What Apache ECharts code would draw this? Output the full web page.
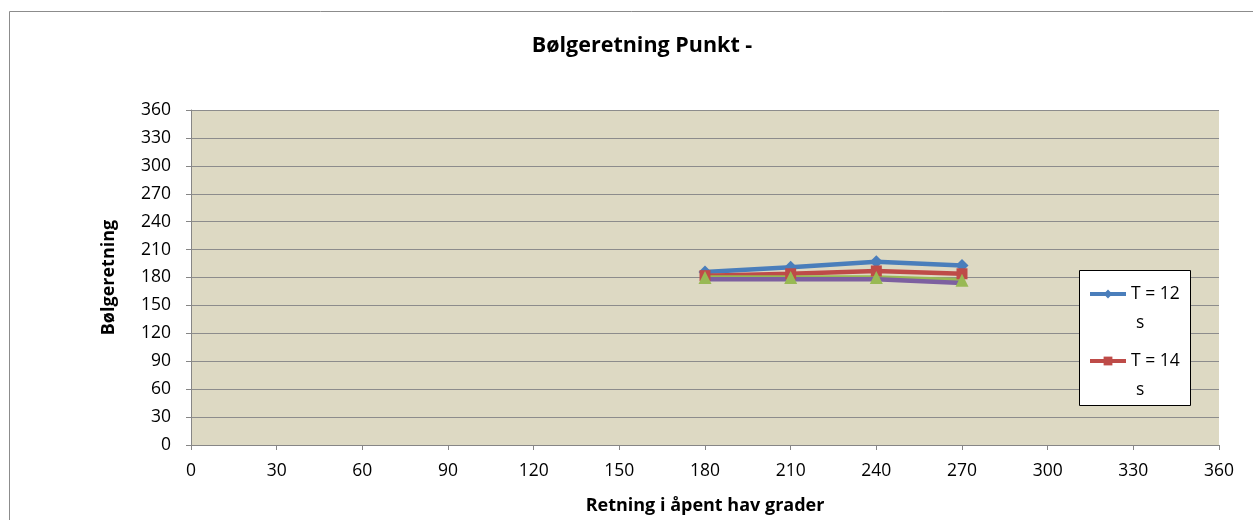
<!DOCTYPE html>
<html lang="en">
<head>
    <meta charset="UTF-8">
    <title>Bølgeretning Punkt</title>
    <style>
        html, body { margin: 0; padding: 0; background: #fff; }
        #crq { width: 1253px; height: 520px; }
    </style>
    <script src="https://cdn.jsdelivr.net/npm/echarts@6/dist/echarts.min.js"></script>
</head>
<body>
    <div id="crq"></div>
    <script>
        // retning i åpent hav (x) og bølgeretning (y) per periode
        var retning = [180, 210, 240, 270];
        var t12 = [186, 191, 197, 193];
        var t14 = [182, 184, 187, 184];
        var t16 = [180, 180, 180, 177];
        var t18 = [178, 178, 178, 174];
        var seriesNames = ['T = 12 s', 'T = 14 s', 'T = 16 s', 'T = 18 s'];

        function pairs(vals) {
            return retning.map(function (r, i) { return [r, vals[i]]; });
        }

        var font = '"Open Sans", "DejaVu Sans", sans-serif';
        var myChart = echarts.init(document.getElementById('crq'));

        var option = {
            animation: false,
            backgroundColor: '#ffffff',
            title: {
                text: 'Bølgeretning Punkt -',
                left: 637,
                textAlign: 'center',
                top: 30,
                textStyle: { fontFamily: font, fontSize: 21.5, fontWeight: 'bold', color: '#000' }
            },
            graphic: [{
                type: 'rect',
                shape: { x: 9.5, y: 11.5, width: 1260, height: 520 },
                style: { fill: 'none', stroke: '#8c8c8c', lineWidth: 1 },
                silent: true
            }, {
                // legend frame
                type: 'rect',
                shape: { x: 1079.5, y: 270.5, width: 111, height: 135 },
                style: { fill: '#ffffff', stroke: '#000', lineWidth: 1 },
                silent: true,
                z: 5
            }],
            legend: {
                data: seriesNames.slice(0, 2),
                orient: 'vertical',
                left: 1088,
                top: 256,
                padding: 0,
                itemGap: -9,
                itemWidth: 36,
                itemHeight: 11,
                z: 10,
                lineStyle: { width: 4 },
                formatter: function (name) {
                    var p = name.split(' s');
                    return '{e| }\n{a|' + p[0] + '}\n{b|s}';
                },
                textStyle: {
                    fontFamily: font, fontSize: 17.5, color: '#000',
                    rich: {
                        e: { fontFamily: font, fontSize: 17.5, lineHeight: 29 },
                        a: { fontFamily: font, fontSize: 17.5, lineHeight: 29, color: '#000' },
                        b: { fontFamily: font, fontSize: 17.5, lineHeight: 29, color: '#000', padding: [0, 0, 0, 5] }
                    }
                }
            },
            grid: {
                left: 191,
                right: 34,
                top: 110,
                bottom: 74,
                show: true,
                backgroundColor: '#ddd9c3',
                borderWidth: 0
            },
            xAxis: {
                type: 'value',
                min: 0,
                max: 360,
                interval: 30,
                name: 'Retning i åpent hav grader',
                nameLocation: 'middle',
                nameGap: 52,
                nameTextStyle: { fontFamily: font, fontSize: 18, fontWeight: 'bold', color: '#000' },
                axisLine: { show: true, lineStyle: { color: '#868686' } },
                axisTick: { show: true, length: 5, lineStyle: { color: '#868686' } },
                axisLabel: { fontFamily: font, fontSize: 17.5, color: '#000', margin: 17 },
                splitLine: { show: false }
            },
            yAxis: {
                type: 'value',
                min: 0,
                max: 360,
                interval: 30,
                name: 'Bølgeretning',
                nameLocation: 'middle',
                nameGap: 73,
                nameTextStyle: { fontFamily: font, fontSize: 18, fontWeight: 'bold', color: '#000' },
                axisLine: { show: true, lineStyle: { color: '#868686' } },
                axisTick: { show: true, length: 5, lineStyle: { color: '#868686' } },
                axisLabel: { fontFamily: font, fontSize: 17.5, color: '#000', margin: 20 },
                splitLine: { show: true, lineStyle: { color: '#8c8c8c', width: 1 } }
            },
            series: [
                {
                    name: seriesNames[0], type: 'line', data: pairs(t12),
                    symbol: 'diamond', symbolSize: 13,
                    lineStyle: { width: 4.5, color: '#4a7ebb' },
                    itemStyle: { color: '#4a7ebb' }
                },
                {
                    name: seriesNames[1], type: 'line', data: pairs(t14),
                    symbol: 'rect', symbolSize: 11,
                    lineStyle: { width: 4.5, color: '#be4b48' },
                    itemStyle: { color: '#be4b48' }
                },
                {
                    name: seriesNames[2], type: 'line', data: pairs(t16),
                    symbol: 'triangle', symbolSize: 13,
                    lineStyle: { width: 4.5, color: '#98b954' },
                    itemStyle: { color: '#98b954' }
                },
                {
                    name: seriesNames[3], type: 'line', data: pairs(t18),
                    symbol: 'none',
                    lineStyle: { width: 4.5, color: '#7d60a0' },
                    itemStyle: { color: '#7d60a0' }
                }
            ]
        };

        myChart.setOption(option);
    </script>
</body>
</html>
